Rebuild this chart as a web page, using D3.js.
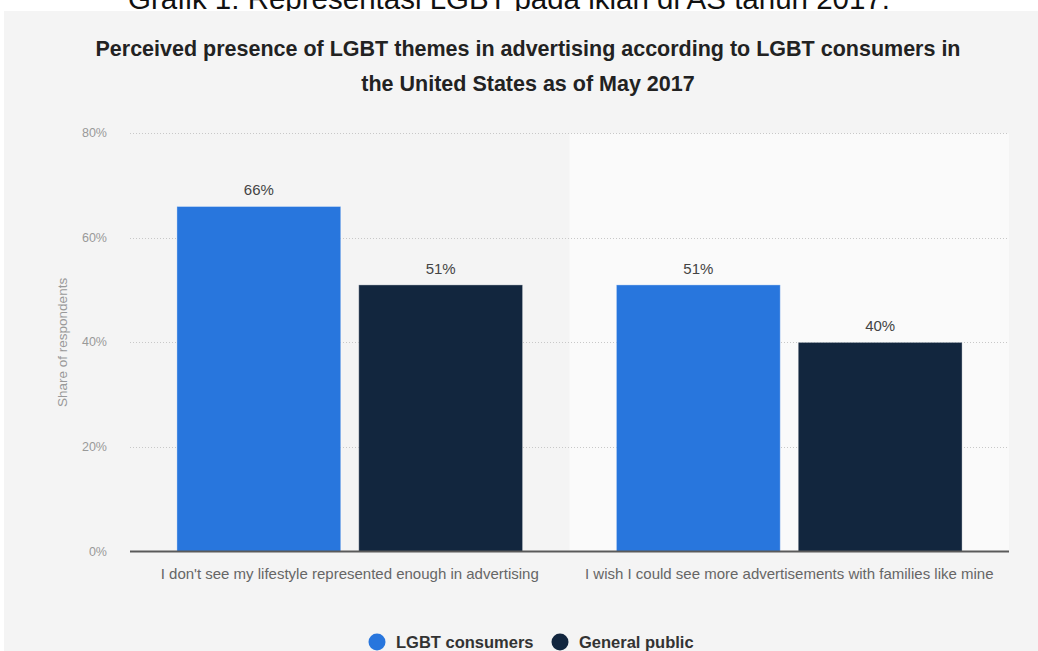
<!DOCTYPE html>
<html lang="en">
<head>
    <meta charset="UTF-8">
    <title>LGBT themes in advertising</title>
    <script src="https://d3js.org/d3.v7.min.js"></script>
    <style>
        body { margin: 0; background: #ffffff; font-family: "Liberation Sans", Arial, sans-serif; }
        svg { display: block; }
        .grid line { stroke: #c8c8c8; stroke-dasharray: 1,2; }
        .tick-label { fill: #999; font-size: 12.5px; }
        .axis-title { fill: #999; font-size: 13.5px; }
        .value-label { fill: #444; font-size: 15px; }
        .cat-label { fill: #666; font-size: 15px; }
    </style>
</head>
<body>
<div id="chart"></div>
<script>
    const categories = [
        "I don't see my lifestyle represented enough in advertising",
        "I wish I could see more advertisements with families like mine"
    ];
    const seriesNames = ["LGBT consumers", "General public"];
    const lgbtValues = [66, 51];
    const publicValues = [51, 40];
    const yTicks = [0, 20, 40, 60, 80];
    const colors = ["#2876dd", "#12263e"];

    const width = 1038, height = 651;
    const svg = d3.select("#chart").append("svg")
        .attr("width", width)
        .attr("height", height);

    // caption above the panel (cut off by the top edge, like in the screenshot)
    svg.append("text")
        .attr("x", 509).attr("y", 9)
        .attr("text-anchor", "middle")
        .style("font-size", "29.5px")
        .style("fill", "#111")
        .text("Grafik 1: Representasi LGBT pada iklan di AS tahun 2017.");

    // grey panel
    svg.append("rect")
        .attr("x", 4).attr("y", 11)
        .attr("width", width - 4).attr("height", height - 11)
        .attr("fill", "#f4f4f4");

    const title = svg.append("text")
        .attr("text-anchor", "middle")
        .style("font-size", "21.5px")
        .style("font-weight", "bold")
        .style("fill", "#222");
    title.append("tspan").attr("x", 528).attr("y", 56)
        .text("Perceived presence of LGBT themes in advertising according to LGBT consumers in");
    title.append("tspan").attr("x", 528).attr("y", 91)
        .text("the United States as of May 2017");

    const plotLeft = 130, plotRight = 1009, plotTop = 133.3, plotBottom = 551.5;

    const x = d3.scaleBand().domain(categories).range([plotLeft, plotRight]);
    const xs = d3.scaleBand().domain(seriesNames)
        .range([0, x.bandwidth()])
        .paddingInner(0.099)
        .paddingOuter(0.258);
    const y = d3.scaleLinear().domain([0, 80]).range([plotBottom, plotTop]);

    // alternating band
    svg.append("rect")
        .attr("x", x(categories[1]))
        .attr("y", y(80))
        .attr("width", x.bandwidth())
        .attr("height", y(0) - y(80))
        .attr("fill", "#fafafa");

    // gridlines
    svg.append("g").attr("class", "grid")
        .selectAll("line")
        .data(yTicks.filter(d => d > 0))
        .join("line")
        .attr("x1", plotLeft).attr("x2", plotRight)
        .attr("y1", d => Math.round(y(d)) + 0.5)
        .attr("y2", d => Math.round(y(d)) + 0.5);

    svg.append("g")
        .selectAll("text")
        .data(yTicks)
        .join("text")
        .attr("class", "tick-label")
        .attr("x", 107)
        .attr("y", d => y(d) + 4)
        .attr("text-anchor", "end")
        .text(d => d + "%");

    svg.append("text")
        .attr("class", "axis-title")
        .attr("transform", `translate(67,${(plotTop + plotBottom) / 2}) rotate(-90)`)
        .attr("text-anchor", "middle")
        .text("Share of respondents");

    // bars
    const rows = categories.map((c, i) => ({
        cat: c,
        vals: [
            { name: seriesNames[0], value: lgbtValues[i], color: colors[0] },
            { name: seriesNames[1], value: publicValues[i], color: colors[1] }
        ]
    }));

    const groups = svg.append("g")
        .selectAll("g")
        .data(rows)
        .join("g")
        .attr("transform", d => `translate(${x(d.cat)},0)`);

    groups.selectAll("rect")
        .data(d => d.vals)
        .join("rect")
        .attr("x", d => xs(d.name))
        .attr("y", d => y(d.value))
        .attr("width", xs.bandwidth())
        .attr("height", d => y(0) - y(d.value))
        .attr("fill", d => d.color)
        .attr("stroke", "rgba(255,255,255,0.35)")
        .attr("stroke-width", 1);

    groups.selectAll("text")
        .data(d => d.vals)
        .join("text")
        .attr("class", "value-label")
        .attr("x", d => xs(d.name) + xs.bandwidth() / 2)
        .attr("y", d => y(d.value) - 11)
        .attr("text-anchor", "middle")
        .text(d => d.value + "%");

    // x axis line
    svg.append("line")
        .attr("x1", plotLeft).attr("x2", plotRight)
        .attr("y1", plotBottom).attr("y2", plotBottom)
        .attr("stroke", "#5a5a5a")
        .attr("stroke-width", 2);

    svg.append("g")
        .selectAll("text")
        .data(categories)
        .join("text")
        .attr("class", "cat-label")
        .attr("x", d => x(d) + x.bandwidth() / 2)
        .attr("y", 579)
        .attr("text-anchor", "middle")
        .text(d => d);

    // legend
    const legend = svg.append("g");
    const legendX = [377, 560];
    seriesNames.forEach((name, i) => {
        legend.append("circle")
            .attr("cx", legendX[i]).attr("cy", 642)
            .attr("r", 8.5)
            .attr("fill", colors[i]);
        legend.append("text")
            .attr("x", legendX[i] + 19).attr("y", 648)
            .style("font-size", "16.5px")
            .style("font-weight", "bold")
            .style("fill", "#333")
            .text(name);
    });
</script>
</body>
</html>
